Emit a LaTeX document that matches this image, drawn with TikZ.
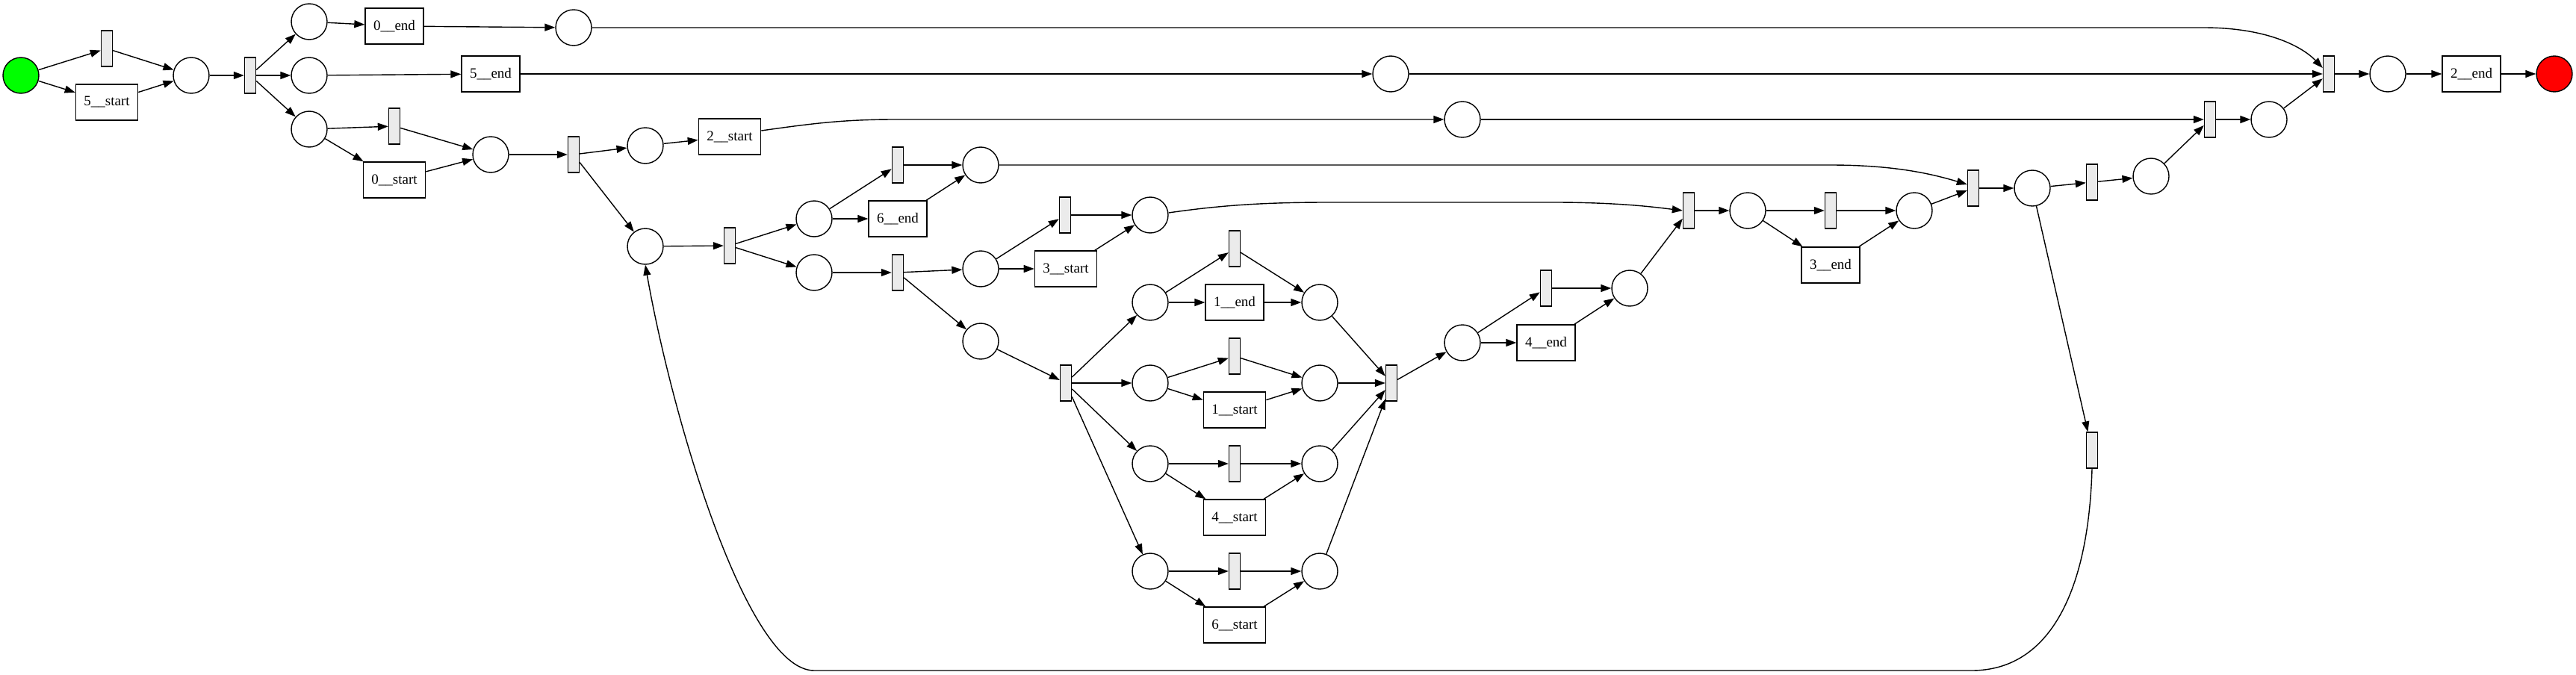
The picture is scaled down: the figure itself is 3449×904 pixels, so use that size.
\documentclass[tikz,border=0pt]{standalone}
\usepackage{fontspec}
\setmainfont{Liberation Serif}
\usetikzlibrary{arrows.meta,calc}
\definecolor{tgray}{RGB}{235,235,235}
\definecolor{pgreen}{RGB}{0,255,0}
\definecolor{pred}{RGB}{255,0,0}
\tikzset{
  place/.style={circle, draw, minimum size=24pt, inner sep=0pt, line width=0.7pt},
  silent/.style={rectangle, draw, fill=tgray, minimum width=7.5pt, minimum height=24pt, inner sep=0pt, line width=0.7pt},
  trans/.style={rectangle, draw, minimum height=24pt, inner xsep=5.5pt, inner ysep=0pt, line width=0.7pt, font=\fontsize{9.5pt}{11pt}\selectfont},
  arc/.style={-{Triangle[length=7pt,width=5pt]}, line width=0.7pt}
}
\begin{document}
\begin{tikzpicture}[x=0.5pt,y=-0.5pt]
\useasboundingbox (0,0) rectangle (3449,904);
% places
\node[place,fill=pgreen] (Ps) at (28,101) {};
\node[place] (P1) at (256,101) {};
\node[place] (P2) at (414,29) {};
\node[place] (P3) at (768,37) {};
\node[place] (P4) at (414,101) {};
\node[place] (P31) at (1862,99) {};
\node[place] (P5) at (414,173) {};
\node[place] (P6) at (657,207) {};
\node[place] (P7) at (864,195) {};
\node[place] (P32) at (1958,160) {};
\node[place] (P8) at (864,330) {};
\node[place] (P9) at (1090,293) {};
\node[place] (P10) at (1090,365) {};
\node[place] (P11) at (1313,221) {};
\node[place] (P12) at (1313,360) {};
\node[place] (P13) at (1540,288) {};
\node[place] (P14) at (1313,457) {};
\node[place] (P15) at (1540,405) {};
\node[place] (P16) at (1767,405) {};
\node[place] (P17) at (1540,513) {};
\node[place] (P18) at (1767,513) {};
\node[place] (P19) at (1540,621) {};
\node[place] (P20) at (1767,621) {};
\node[place] (P21) at (1540,765) {};
\node[place] (P22) at (1767,765) {};
\node[place] (P23) at (1958,459) {};
\node[place] (P24) at (2182,386) {};
\node[place] (P25) at (2340,282) {};
\node[place] (P26) at (2563,282) {};
\node[place] (P27) at (2721,252) {};
\node[place] (P28) at (2880,236) {};
\node[place] (P29) at (3038,160) {};
\node[place] (P30) at (3197,99) {};
\node[place,fill=pred] (Pe) at (3420,99) {};
% silent transitions
\node[silent] (t1) at (143,65) {};
\node[silent] (t2) at (335,101) {};
\node[silent] (t3) at (528,169) {};
\node[silent] (t4) at (768,207) {};
\node[silent] (t5) at (977,329) {};
\node[silent] (t6) at (1202,221) {};
\node[silent] (t7) at (1202,365) {};
\node[silent] (t8) at (1426,288) {};
\node[silent] (t9) at (1427,513) {};
\node[silent] (t10) at (1653,333) {};
\node[silent] (t11) at (1653,477) {};
\node[silent] (t12) at (1653,621) {};
\node[silent] (t13) at (1653,765) {};
\node[silent] (t14) at (1863,513) {};
\node[silent] (t15) at (2070,386) {};
\node[silent] (t16) at (2261,282) {};
\node[silent] (t17) at (2451,282) {};
\node[silent] (t18) at (2642,252) {};
\node[silent] (t19) at (2801,244) {};
\node[silent] (t20) at (2959,160) {};
\node[silent] (t21) at (3118,99) {};
\node[silent] (t22) at (2801,603) {};
% labelled transitions
\node[trans] (s5) at (143,137) {5\_\_start};
\node[trans] (e0) at (528,35) {0\_\_end};
\node[trans] (e5) at (657,99) {5\_\_end};
\node[trans] (s0) at (528,241) {0\_\_start};
\node[trans] (s2) at (977,183) {2\_\_start};
\node[trans] (e6) at (1202,293) {6\_\_end};
\node[trans] (s3) at (1427,360) {3\_\_start};
\node[trans] (e1) at (1653,405) {1\_\_end};
\node[trans] (s1) at (1653,549) {1\_\_start};
\node[trans] (s4) at (1653,693) {4\_\_start};
\node[trans] (s6) at (1653,837) {6\_\_start};
\node[trans] (e4) at (2070,459) {4\_\_end};
\node[trans] (e3) at (2451,355) {3\_\_end};
\node[trans] (e2) at (3309,99) {2\_\_end};
% arcs
\draw[arc] (Ps) -- (t1);
\draw[arc] (Ps) -- (s5);
\draw[arc] (t1) -- (P1);
\draw[arc] (s5) -- (P1);
\draw[arc] (P1) -- (t2);
\draw[arc] (t2) -- (P2);
\draw[arc] (t2) -- (P4);
\draw[arc] (t2) -- (P5);
\draw[arc] (P2) -- (e0);
\draw[arc] (e0) -- (P3);
\draw[arc] (P4) -- (e5);
\draw[arc] (e5) -- (P31);
\draw[arc] (P5) -- (t3);
\draw[arc] (P5) -- (s0);
\draw[arc] (t3) -- (P6);
\draw[arc] (s0) -- (P6);
\draw[arc] (P6) -- (t4);
\draw[arc] (t4) -- (P7);
\draw[arc] (t4) -- (P8);
\draw[arc] (P7) -- (s2);
\draw[arc] ($(s2.east)+(0,-8)$) .. controls (1090,165) and (1130,160) .. (1200,160) -- (P32.west);
\draw[arc] (P8) -- (t5);
\draw[arc] (t5) -- (P9);
\draw[arc] (t5) -- (P10);
\draw[arc] (P9) -- (t6);
\draw[arc] (P9) -- (e6);
\draw[arc] (t6) -- (P11);
\draw[arc] (e6) -- (P11);
\draw[arc] (P10) -- (t7);
\draw[arc] (t7) -- (P12);
\draw[arc] (t7) -- (P14);
\draw[arc] (P12) -- (t8);
\draw[arc] (P12) -- (s3);
\draw[arc] (t8) -- (P13);
\draw[arc] (s3) -- (P13);
\draw[arc] (P14) -- (t9);
\draw[arc] (t9) -- (P15);
\draw[arc] (t9) -- (P17);
\draw[arc] (t9) -- (P19);
\draw[arc] (t9) -- (P21);
\draw[arc] (P15) -- (t10);
\draw[arc] (P15) -- (e1);
\draw[arc] (t10) -- (P16);
\draw[arc] (e1) -- (P16);
\draw[arc] (P17) -- (t11);
\draw[arc] (P17) -- (s1);
\draw[arc] (t11) -- (P18);
\draw[arc] (s1) -- (P18);
\draw[arc] (P19) -- (t12);
\draw[arc] (P19) -- (s4);
\draw[arc] (t12) -- (P20);
\draw[arc] (s4) -- (P20);
\draw[arc] (P21) -- (t13);
\draw[arc] (P21) -- (s6);
\draw[arc] (t13) -- (P22);
\draw[arc] (s6) -- (P22);
\draw[arc] (P16) -- (t14);
\draw[arc] (P18) -- (t14);
\draw[arc] (P20) -- (t14);
\draw[arc] (P22) -- (t14);
\draw[arc] (t14) -- (P23);
\draw[arc] (P23) -- (t15);
\draw[arc] (P23) -- (e4);
\draw[arc] (t15) -- (P24);
\draw[arc] (e4) -- (P24);
\draw[arc] (P24) -- (t16);
\draw[arc] ($(P13.east)+(0,-3)$) .. controls (1640,274) and (1700,271) .. (1780,271) -- (2080,271) .. controls (2170,271) and (2220,278) .. (t16.west);
\draw[arc] (t16) -- (P25);
\draw[arc] (P25) -- (t17);
\draw[arc] (P25) -- (e3);
\draw[arc] (t17) -- (P26);
\draw[arc] (e3) -- (P26);
\draw[arc] (P26) -- (t18);
\draw[arc] (P11.east) -- (2450,221) .. controls (2540,221) and (2590,234) .. ($(t18.west)+(0,-5)$);
\draw[arc] (t18) -- (P27);
\draw[arc] (P27) -- (t19);
\draw[arc] (t19) -- (P28);
\draw[arc] (P28) -- (t20);
\draw[arc] (P32) -- (t20);
\draw[arc] (t20) -- (P29);
\draw[arc] (P29) -- (t21);
\draw[arc] (P31) -- (t21);
\draw[arc] (P3.east) -- (2950,37) .. controls (3040,37) and (3085,65) .. ($(t21.west)+(0,-8)$);
\draw[arc] (t21) -- (P30);
\draw[arc] (P30) -- (e2);
\draw[arc] (e2) -- (Pe);
\draw[arc] (P27) -- (t22);
\draw[arc] (t22.south) .. controls (2796,800) and (2740,898) .. (2640,898) -- (1090,898) .. controls (1000,898) and (900,560) .. (P8.south);
\end{tikzpicture}
\end{document}
